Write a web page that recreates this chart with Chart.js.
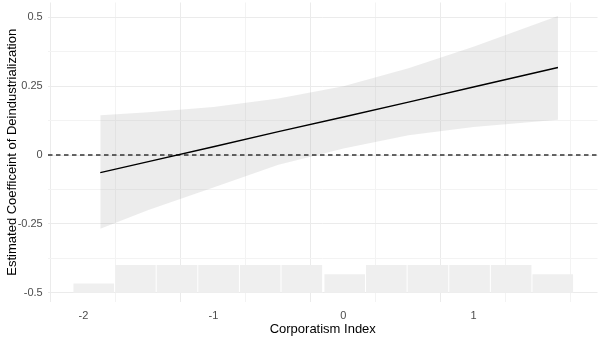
<!DOCTYPE html>
<html>
<head>
<meta charset="utf-8">
<script src="https://cdn.jsdelivr.net/npm/chart.js@4/dist/chart.umd.min.js"></script>
<style>
  html, body { margin: 0; padding: 0; background: #ffffff; }
  #wrap { width: 600px; height: 339px; position: relative; }
</style>
</head>
<body>
<div id="wrap"><canvas id="c"></canvas></div>
<script>
// Moderator values (Corporatism Index) and marginal effect estimates
const moderator = [-1.87, -1.5, -1, -0.5, 0, 0.5, 1, 1.65];
const estimate  = [-0.064, -0.024, 0.030, 0.085, 0.138, 0.192, 0.247, 0.318];
const upperCI   = [0.144, 0.155, 0.174, 0.205, 0.250, 0.315, 0.393, 0.505];
const lowerCI   = [-0.268, -0.200, -0.118, -0.035, 0.024, 0.072, 0.102, 0.128];

// Histogram of the moderator (drawn at bottom of panel)
const histCenters = [-1.92, -1.60, -1.28, -0.96, -0.64, -0.32, 0.01, 0.33, 0.65, 0.97, 1.29, 1.61];
const histCounts  = [1, 3, 3, 3, 3, 3, 2, 3, 3, 3, 3, 2];
const histBase = -0.5;
const histUnit = 1 / 30;

// Axis ticks
const xTicks = [-2, -1.5, -1, -0.5, 0, 0.5, 1, 1.5];
const yTicks = [-0.5, -0.375, -0.25, -0.125, 0, 0.125, 0.25, 0.375, 0.5];
const xLabels = {"-2": "-2", "-1": "-1", "0": "0", "1": "1"};
const yLabels = {"-0.5": "-0.5", "-0.25": "-0.25", "0": "0", "0.25": "0.25", "0.5": "0.5"};
const xMin = -2.272, xMax = 1.954;
const yMin = -0.534, yMax = 0.554;

const pts = (ys) => moderator.map((x, i) => ({x: x, y: ys[i]}));

const data = {
  datasets: [
    {
      type: 'line', label: 'Estimate', data: pts(estimate),
      borderColor: '#000000', borderWidth: 1.4, pointRadius: 0, fill: false, order: 0
    },
    {
      type: 'line', label: 'Zero', data: [{x: xMin, y: 0}, {x: xMax, y: 0}],
      borderColor: '#333333', borderWidth: 1.6, borderDash: [4.5, 3.5], pointRadius: 0, fill: false, order: 1
    },
    {
      type: 'line', label: 'Upper', data: pts(upperCI),
      borderWidth: 0, borderColor: 'rgba(0,0,0,0)', pointRadius: 0,
      fill: '+1', backgroundColor: 'rgba(153,153,153,0.19)', order: 3
    },
    {
      type: 'line', label: 'Lower', data: pts(lowerCI),
      borderWidth: 0, borderColor: 'rgba(0,0,0,0)', pointRadius: 0, fill: false, order: 4
    },
    {
      type: 'bar', label: 'Histogram',
      data: histCenters.map((x, i) => ({x: x, y: [histBase, histBase + histCounts[i] * histUnit]})),
      backgroundColor: '#EFEFEF', borderWidth: 0,
      barPercentage: 0.976, categoryPercentage: 1, order: 5
    }
  ]
};

const gridColor = (major) => major ? '#EBEBEB' : '#F3F3F3';

new Chart(document.getElementById('c'), {
  type: 'line',
  data: data,
  options: {
    responsive: true,
    maintainAspectRatio: false,
    animation: false,
    events: [],
    layout: { padding: { top: 2.5, right: 2.5, left: 0, bottom: 0 } },
    plugins: { legend: { display: false }, tooltip: { enabled: false } },
    scales: {
      x: {
        type: 'linear', min: xMin, max: xMax, offset: false,
        afterBuildTicks: (axis) => { axis.ticks = xTicks.map(v => ({value: v})); },
        afterFit: (axis) => { axis.height = 37; axis.paddingLeft = 0; axis.paddingRight = 0; },
        border: { display: false },
        grid: {
          drawTicks: false,
          color: (ctx) => gridColor(ctx.tick && Number.isInteger(ctx.tick.value)),
          lineWidth: 1
        },
        ticks: {
          autoSkip: false, maxRotation: 0, padding: 7.4,
          color: '#4D4D4D',
          font: { family: 'Liberation Sans', size: 11 },
          callback: (v) => (xLabels[String(v)] !== undefined ? xLabels[String(v)] : '')
        },
        title: {
          display: true, text: 'Corporatism Index', color: '#000000',
          font: { family: 'Liberation Sans', size: 13 },
          padding: { top: 0, bottom: 2.2 }
        }
      },
      y: {
        type: 'linear', min: yMin, max: yMax,
        afterBuildTicks: (axis) => { axis.ticks = yTicks.map(v => ({value: v})); },
        afterFit: (axis) => { axis.width = 48; axis.paddingTop = 0; axis.paddingBottom = 0; },
        border: { display: false },
        grid: {
          drawTicks: false,
          color: (ctx) => gridColor(ctx.tick && Number.isInteger(ctx.tick.value * 4)),
          lineWidth: 1
        },
        ticks: {
          autoSkip: false, padding: 5.3,
          color: '#4D4D4D',
          font: { family: 'Liberation Sans', size: 11 },
          callback: (v) => (yLabels[String(v)] !== undefined ? yLabels[String(v)] : '')
        },
        title: {
          display: true, text: 'Estimated Coefficeint of Deindustrialization', color: '#000000',
          font: { family: 'Liberation Sans', size: 13 },
          padding: { top: 4.2, bottom: 0 }
        }
      }
    }
  }
});
</script>
</body>
</html>
